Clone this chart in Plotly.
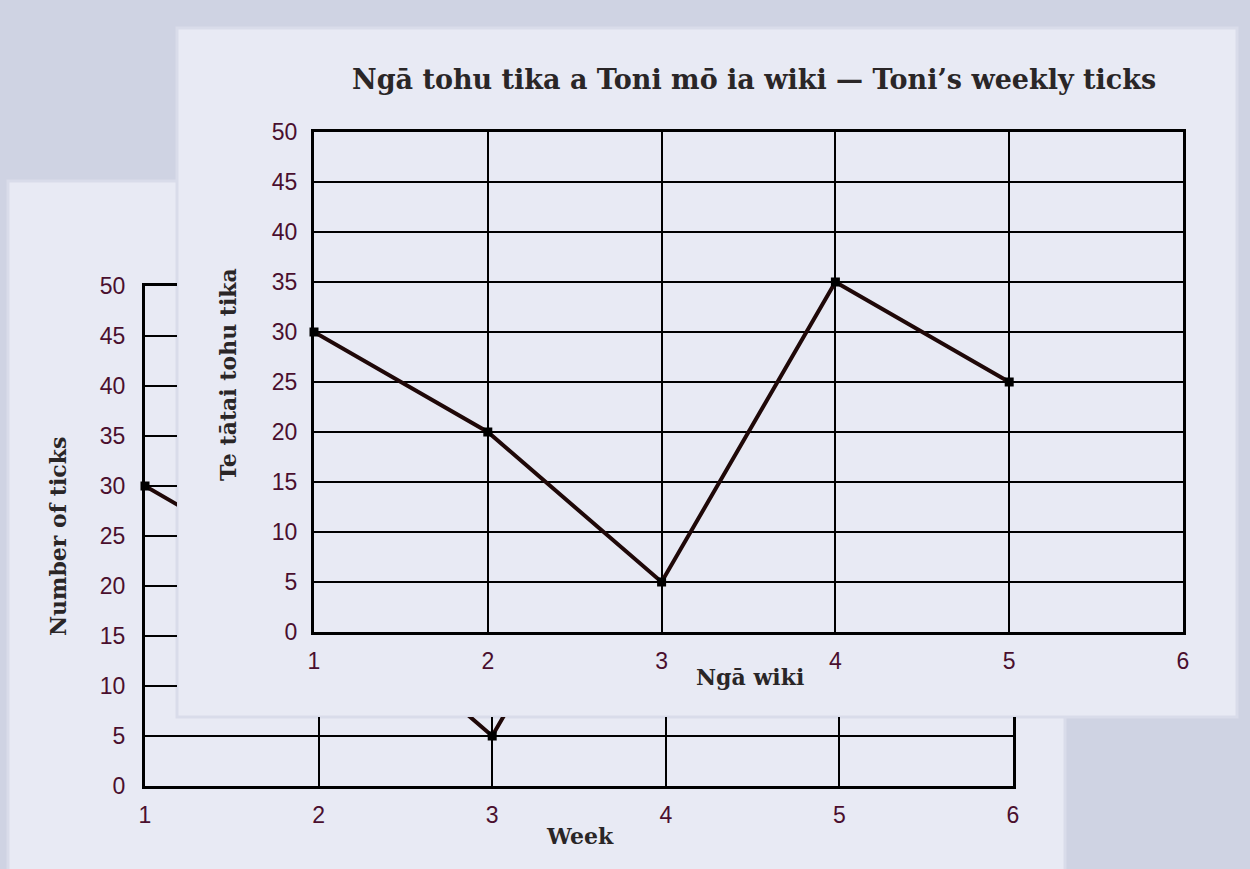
import plotly.graph_objects as go

# ---- data ----
weeks = [1, 2, 3, 4, 5]
ticks_count = [30, 20, 5, 35, 25]
x_tick_vals = [1, 2, 3, 4, 5, 6]
y_tick_vals = [0, 5, 10, 15, 20, 25, 30, 35, 40, 45, 50]

title_text = "Ngā tohu tika a Toni mō ia wiki — Toni’s weekly ticks"
front_xtitle = "Ngā wiki"
front_ytitle = "Te tātai tohu tika"
back_xtitle = "Week"
back_ytitle = "Number of ticks"

W, H = 1250, 869
def px(x):
    return x / W
def py(y):
    return 1 - y / H

PAGE_BG = "#cfd3e3"
PANEL = "#e8eaf4"
PANEL_EDGE = "#d9dcea"
TICK_COLOR = "#4a0f2e"
LINE_COLOR = "#1f0808"
TITLE_COLOR = "#2a2627"
SERIF = "DejaVu Serif"
SANS = "Liberation Sans"

fig = go.Figure()

trace_style = dict(
    mode="lines+markers",
    line=dict(color=LINE_COLOR, width=4),
    marker=dict(symbol="square", size=9, color="#000000"),
    cliponaxis=False,
    showlegend=False,
    hoverinfo="skip",
)

# back chart, left strip (visible part beside front panel)
fig.add_trace(go.Scatter(x=weeks, y=ticks_count, xaxis="x", yaxis="y", **trace_style))
# back chart, bottom strip (visible part below front panel)
fig.add_trace(go.Scatter(x=weeks, y=ticks_count, xaxis="x2", yaxis="y2", **trace_style))
# front chart
fig.add_trace(go.Scatter(x=weeks, y=ticks_count, xaxis="x3", yaxis="y3", **trace_style))

tickfont = dict(family=SANS, size=23, color=TICK_COLOR)
grid = dict(showgrid=True, gridcolor="#000000", gridwidth=2, zeroline=False,
            showline=True, linecolor="#000000", linewidth=3, ticks="",
            tickfont=tickfont, fixedrange=True, automargin=False)

# back chart geometry: x 1->145px, 6->1013px ; y 0->786px, 50->286px
bx0, bx1 = 145, 1013
by0, by1 = 786, 286
xunit = (bx1 - bx0) / 5.0
yunit = (by0 - by1) / 50.0
strip_right = 177
strip_top = 717

fig.update_layout(
    template="none",
    width=W, height=H, autosize=False,
    margin=dict(l=0, r=0, t=0, b=0, pad=0, autoexpand=False),
    paper_bgcolor=PAGE_BG, plot_bgcolor="rgba(0,0,0,0)",
    showlegend=False,
    xaxis=dict(domain=[px(bx0), px(strip_right)], range=[1, 1 + (strip_right - bx0) / xunit],
               anchor="y", showticklabels=False, mirror=True, tickvals=x_tick_vals, **grid),
    yaxis=dict(domain=[py(by0), py(by1)], range=[0, 50], anchor="x",
               tickvals=y_tick_vals, ticklabelstandoff=12, **grid),
    xaxis2=dict(domain=[px(bx0), px(bx1)], range=[1, 6], anchor="y2",
                tickvals=x_tick_vals, ticklabelstandoff=6, **grid),
    yaxis2=dict(domain=[py(by0), py(strip_top)], range=[0, (by0 - strip_top) / yunit],
                anchor="x2", showticklabels=False, mirror=True, tickvals=y_tick_vals, **grid),
    xaxis3=dict(domain=[px(314), px(1183)], range=[1, 6], anchor="y3", mirror=True,
                tickvals=x_tick_vals, ticklabelstandoff=6, **grid),
    yaxis3=dict(domain=[py(632), py(132)], range=[0, 50], anchor="x3", mirror=True,
                tickvals=y_tick_vals, ticklabelstandoff=9, **grid),
)

# panels
fig.add_shape(type="rect", xref="paper", yref="paper", layer="below",
              x0=px(8), x1=px(1065), y0=-0.05, y1=py(181),
              fillcolor=PANEL, line=dict(color=PANEL_EDGE, width=3))
fig.add_shape(type="rect", xref="paper", yref="paper", layer="below",
              x0=px(177), x1=px(1237), y0=py(717), y1=py(28),
              fillcolor=PANEL, line=dict(color=PANEL_EDGE, width=3))

def label(text, x, y, size, angle=0):
    fig.add_annotation(text=text, x=px(x), y=py(y), xref="paper", yref="paper",
                       showarrow=False, textangle=angle, xanchor="center", yanchor="middle",
                       font=dict(family=SERIF, size=size, color=TITLE_COLOR, weight="bold"))

label(title_text, 754, 80, 27)
label(front_xtitle, 750, 677, 22)
label(front_ytitle, 228, 375, 22, -90)
label(back_xtitle, 580, 836, 22)
label(back_ytitle, 58, 536, 22, -90)

fig.write_html(
    "out.html",
    config={"displayModeBar": False, "staticPlot": True},
    post_script="document.body.style.margin='0';document.body.style.overflow='hidden';",
)
